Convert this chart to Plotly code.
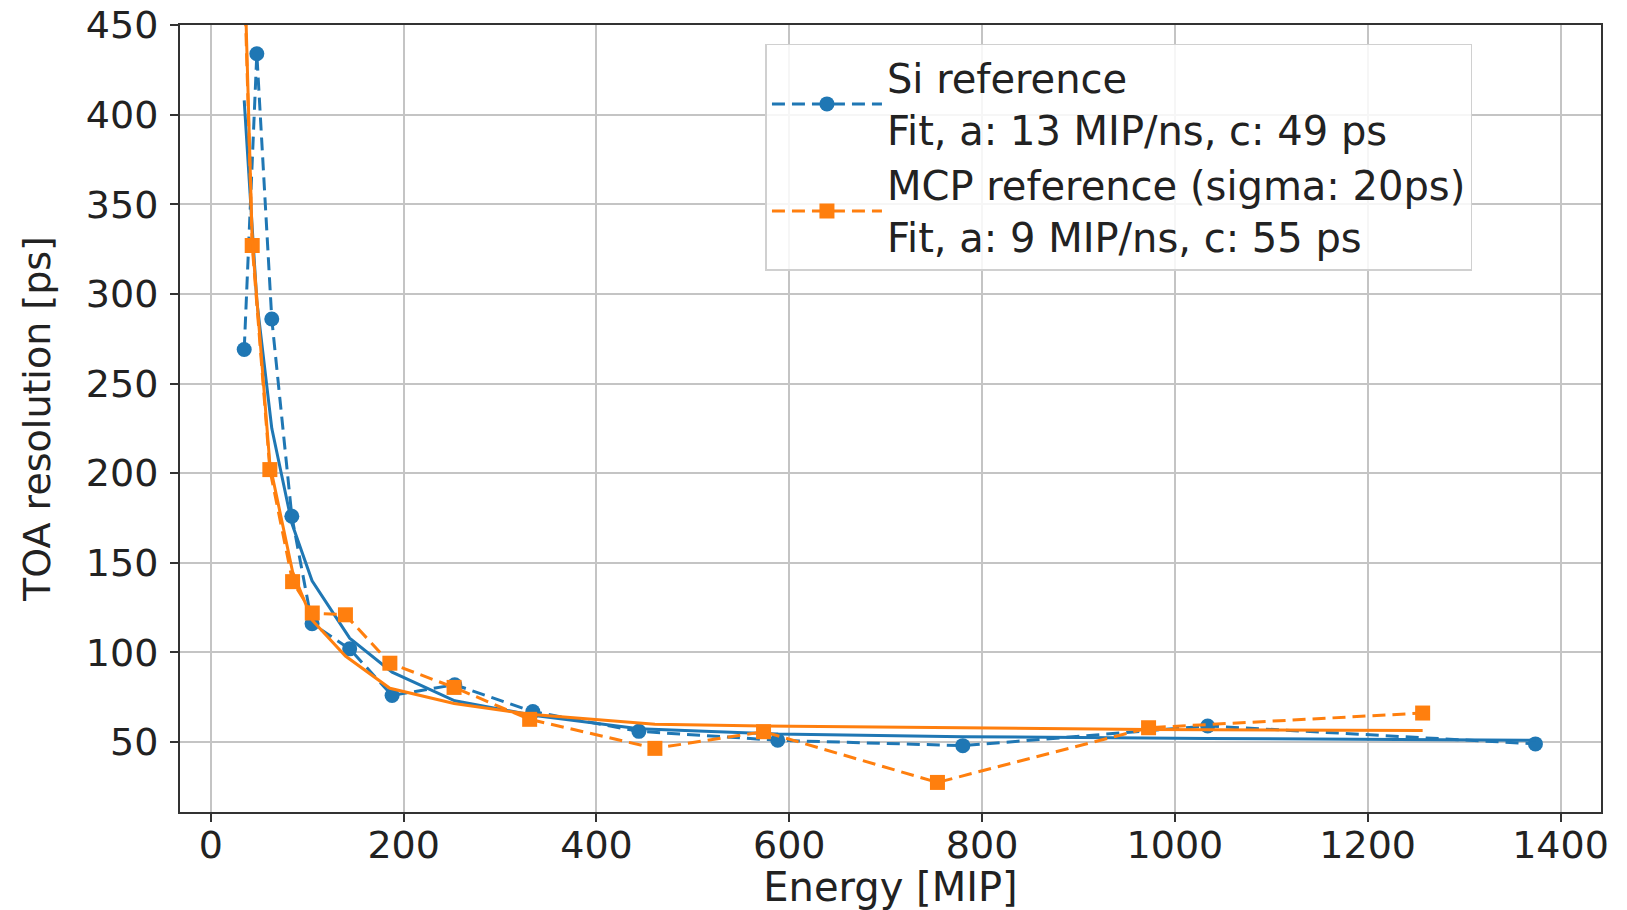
import plotly.graph_objects as go

# Si reference: measured points and fit evaluated at the same energies
si_energy = [34.6, 47.7, 63.2, 84.0, 105.0, 144.0, 188.0, 253.0, 334.0, 444.0, 588.0, 780.0, 1034.0, 1374.0]
si_resolution = [269.0, 434.0, 286.0, 176.0, 116.0, 102.0, 76.0, 82.0, 67.0, 56.0, 51.0, 48.0, 59.0, 49.0]
si_fit = [408.0, 296.0, 225.0, 172.0, 140.0, 108.0, 89.0, 73.0, 65.0, 57.5, 54.5, 53.0, 52.0, 51.0]

# MCP reference: measured points and fit evaluated at the same energies
mcp_energy = [34.0, 42.9, 61.2, 84.8, 105.2, 139.6, 185.7, 252.3, 330.7, 460.6, 573.3, 753.7, 972.7, 1257.0]
mcp_resolution = [490.0, 327.0, 202.0, 139.5, 122.0, 121.0, 94.0, 80.5, 62.7, 46.5, 55.8, 27.5, 58.0, 66.2]
mcp_fit = [500.0, 330.0, 205.0, 145.0, 118.0, 98.0, 80.0, 71.5, 65.5, 60.0, 59.0, 58.0, 57.0, 56.5]

si_label = "Si reference<br>Fit, a: 13 MIP/ns, c: 49 ps"
mcp_label = "MCP reference (sigma: 20ps)<br>Fit, a: 9 MIP/ns, c: 55 ps"

x_ticks = [0, 200, 400, 600, 800, 1000, 1200, 1400]
y_ticks = [50, 100, 150, 200, 250, 300, 350, 400, 450]

BLUE = "#1f77b4"
ORANGE = "#ff7f0e"
FONT = "DejaVu Sans"
TEXT = "#222222"

fig = go.Figure()

fig.add_trace(go.Scatter(
    x=si_energy, y=si_resolution, name=si_label, mode="lines+markers",
    line=dict(color=BLUE, width=3, dash="13px,7px"),
    marker=dict(symbol="circle", size=15, color=BLUE),
))
fig.add_trace(go.Scatter(
    x=si_energy, y=si_fit, mode="lines", showlegend=False,
    line=dict(color=BLUE, width=3),
))
fig.add_trace(go.Scatter(
    x=mcp_energy, y=mcp_resolution, name=mcp_label, mode="lines+markers",
    line=dict(color=ORANGE, width=3, dash="13px,7px"),
    marker=dict(symbol="square", size=15, color=ORANGE),
))
fig.add_trace(go.Scatter(
    x=mcp_energy, y=mcp_fit, mode="lines", showlegend=False,
    line=dict(color=ORANGE, width=3),
))

axis_common = dict(
    showgrid=True, gridcolor="#c4c4c4", gridwidth=1.5,
    showline=True, linecolor="#333333", linewidth=2, mirror=True,
    ticks="outside", ticklen=8, tickwidth=1.5, tickcolor="#333333",
    tickfont=dict(family=FONT, size=38, color=TEXT),
    zeroline=False,
)

fig.update_xaxes(
    range=[-32, 1442], tickvals=x_ticks, ticktext=[str(v) for v in x_ticks],
    ticklabelstandoff=-10,
    title=dict(text="Energy [MIP]", font=dict(family=FONT, size=40, color=TEXT), standoff=0),
    **axis_common,
)
fig.update_yaxes(
    range=[11, 450], tickvals=y_ticks, ticktext=[str(v) for v in y_ticks],
    ticklabelstandoff=4,
    title=dict(text="TOA resolution [ps]", font=dict(family=FONT, size=38, color=TEXT), standoff=24),
    **axis_common,
)

fig.update_layout(
    width=1627, height=910,
    margin=dict(l=180, r=26, t=25, b=98, autoexpand=False),
    plot_bgcolor="white", paper_bgcolor="white",
    font=dict(family=FONT, color=TEXT),
    legend=dict(
        x=0.412, y=0.976, xanchor="left", yanchor="top",
        bgcolor="rgba(255,255,255,0.85)", bordercolor="#d0d0d0", borderwidth=1.5,
        font=dict(family=FONT, size=40, color=TEXT),
        itemwidth=110, tracegroupgap=0,
    ),
)

fig.write_html("out.html")
